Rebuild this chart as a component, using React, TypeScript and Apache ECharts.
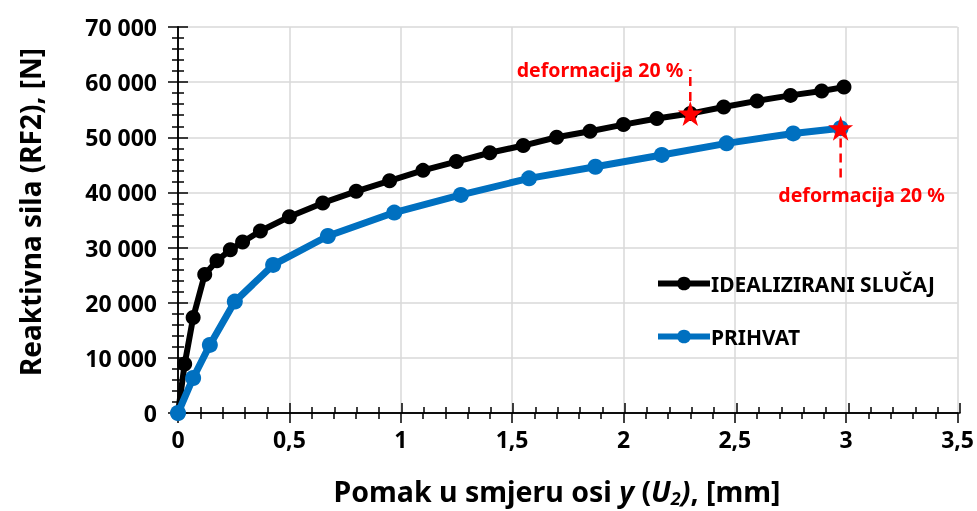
import React, { useEffect, useRef } from "react";
import * as echarts from "echarts";

// ---- data ----
const idealX = [0, 0.03, 0.068, 0.12, 0.175, 0.235, 0.29, 0.37, 0.5, 0.65, 0.8, 0.95, 1.1, 1.25, 1.4, 1.55, 1.7, 1.85, 2.0, 2.15, 2.3, 2.45, 2.6, 2.75, 2.89, 2.99];
const idealY = [0, 8900, 17300, 25100, 27600, 29600, 31000, 33000, 35600, 38100, 40200, 42100, 44000, 45600, 47200, 48500, 50000, 51100, 52300, 53400, 54300, 55500, 56600, 57600, 58400, 59100];

const prihvatX = [0, 0.068, 0.143, 0.255, 0.427, 0.673, 0.971, 1.27, 1.576, 1.874, 2.172, 2.463, 2.762, 2.975];
const prihvatY = [0, 6350, 12350, 20200, 26850, 32100, 36350, 39550, 42550, 44650, 46800, 48900, 50700, 51650];

const starX = [2.3, 2.975];
const starY = [54300, 51650];

// dashed marker lines [x, yFrom, yTo]
const dashUpper = [2.3, 56600, 62300];
const dashLower = [2.975, 49800, 42300];

const seriesNames = ["IDEALIZIRANI SLUČAJ", "PRIHVAT"];
const annotationText = "deformacija 20 %";
const xTitle = "Pomak u smjeru osi ";
const yTitle = "Reaktivna sila (RF2), [N]";

const FONT = "Noto Sans";
const STAR = "path://M50,0 L61.8,35.3 L99,35.3 L68.9,57.1 L80.4,92.5 L50,70.6 L19.6,92.5 L31.1,57.1 L1,35.3 L38.2,35.3 Z";

const pairs = (xs: number[], ys: number[]) => xs.map((x, i) => [x, ys[i]]);
const fmtThousands = (v: number) => (v === 0 ? "0" : String(v).replace(/\B(?=(\d{3})+(?!\d))/g, " "));
const fmtComma = (v: number) => String(v).replace(".", ",");

export default function App() {
  const ref = useRef<HTMLDivElement>(null);
  useEffect(() => {
    if (!ref.current) return;
    const chart = echarts.init(ref.current, null, { renderer: "svg" });
    const gridRect = { left: 178, right: 17, top: 27, bottom: 98 };
    const xBase = { type: "value", min: 0, max: 3.5, interval: 0.5 };
    const yBase = { type: "value", min: 0, max: 70000, interval: 10000 };
    const axisLine = { show: true, onZero: false, lineStyle: { color: "#000", width: 1.5 } };
    const option: any = {
      animation: false,
      textStyle: { fontFamily: FONT },
      grid: [
        { ...gridRect },
        { ...gridRect },
      ],
      xAxis: [
        {
          ...xBase,
          gridIndex: 0,
          position: "bottom",
          axisLine,
          axisTick: { show: true, length: 10, lineStyle: { color: "#000", width: 1.5 } },
          minorTick: { show: true, splitNumber: 5, length: 6, lineStyle: { color: "#000", width: 1.5 } },
          splitLine: { show: true, lineStyle: { color: "#d9d9d9", width: 1.5 } },
          axisLabel: { margin: 14, fontSize: 23, fontWeight: "bold", color: "#000", fontFamily: FONT, formatter: fmtComma },
        },
        {
          ...xBase,
          gridIndex: 1,
          position: "bottom",
          axisLine,
          axisTick: { show: true, inside: true, length: 10, lineStyle: { color: "#000", width: 1.5 } },
          minorTick: { show: true, splitNumber: 5, length: 6, lineStyle: { color: "#000", width: 1.5 } },
          splitLine: { show: false },
          axisLabel: { show: false },
        },
      ],
      yAxis: [
        {
          ...yBase,
          gridIndex: 0,
          position: "left",
          axisLine,
          axisTick: { show: true, length: 10, lineStyle: { color: "#000", width: 1.5 } },
          minorTick: { show: true, splitNumber: 5, length: 6, lineStyle: { color: "#000", width: 1.5 } },
          splitLine: { show: true, lineStyle: { color: "#d9d9d9", width: 1.5 } },
          axisLabel: { margin: 21, fontSize: 23, fontWeight: "bold", color: "#000", fontFamily: FONT, formatter: fmtThousands },
        },
        {
          ...yBase,
          gridIndex: 1,
          position: "left",
          axisLine,
          axisTick: { show: true, inside: true, length: 10, lineStyle: { color: "#000", width: 1.5 } },
          minorTick: { show: true, splitNumber: 5, length: 6, lineStyle: { color: "#000", width: 1.5 } },
          splitLine: { show: false },
          axisLabel: { show: false },
        },
      ],
      legend: {
        data: seriesNames,
        orient: "vertical",
        left: 650,
        top: 268,
        itemWidth: 52,
        itemHeight: 17,
        itemGap: 32,
        lineStyle: { width: 6 },
        textStyle: { fontSize: 21, fontWeight: "bold", color: "#000", fontFamily: FONT, padding: [0, 0, 0, -4] },
      },
      series: [
        {
          name: seriesNames[0],
          type: "line",
          data: pairs(idealX, idealY),
          symbol: "circle",
          symbolSize: 15,
          itemStyle: { color: "#000" },
          lineStyle: { color: "#000", width: 6 },
          z: 3,
        },
        {
          name: seriesNames[1],
          type: "line",
          data: pairs(prihvatX, prihvatY),
          symbol: "circle",
          symbolSize: 16,
          itemStyle: { color: "#0070C0" },
          lineStyle: { color: "#0070C0", width: 7 },
          z: 4,
        },
        {
          name: "dashUpper",
          type: "line",
          data: [[dashUpper[0], dashUpper[1]], [dashUpper[0], dashUpper[2]]],
          symbol: "none",
          lineStyle: { color: "#ff0000", width: 2.5, type: [9, 6] },
          silent: true,
          z: 5,
        },
        {
          name: "dashLower",
          type: "line",
          data: [[dashLower[0], dashLower[1]], [dashLower[0], dashLower[2]]],
          symbol: "none",
          lineStyle: { color: "#ff0000", width: 2.5, type: [9, 6] },
          silent: true,
          z: 5,
        },
        {
          name: "stars",
          type: "scatter",
          data: pairs(starX, starY),
          symbol: STAR,
          symbolSize: 25,
          itemStyle: { color: "#ff0000", opacity: 1 },
          z: 6,
        },
        {
          name: "labels",
          type: "scatter",
          symbolSize: 0,
          silent: true,
          data: [
            { value: [dashUpper[0], dashUpper[2]], label: { show: true, position: "left", distance: 7 } },
            { value: [dashLower[0], dashLower[2]], label: { show: true, position: "bottom", distance: 5, offset: [21, 0] } },
          ],
          label: {
            formatter: annotationText,
            color: "#ff0000",
            fontSize: 19.5,
            fontWeight: "bold",
            fontFamily: FONT,
          },
          itemStyle: { opacity: 1 },
          z: 7,
        },
      ],
      graphic: [
        {
          type: "text",
          x: 30,
          y: 212,
          rotation: Math.PI / 2,
          style: {
            text: yTitle,
            fill: "#000",
            font: `bold 28px "${FONT}"`,
            textAlign: "center",
            textVerticalAlign: "middle",
          },
        },
        {
          type: "text",
          x: 557,
          y: 491,
          style: {
            text: `{a|${xTitle}}{i|y}{a| (}{i|U}{s|2}{i|)}{a|, [mm]}`,
            textAlign: "center",
            textVerticalAlign: "middle",
            rich: {
              a: { fontSize: 28.5, fontWeight: "bold", fontFamily: FONT, fill: "#000", lineHeight: 32 },
              i: { fontSize: 28.5, fontWeight: "bold", fontStyle: "italic", fontFamily: FONT, fill: "#000", lineHeight: 32 },
              s: { fontSize: 18, fontWeight: "bold", fontStyle: "italic", fontFamily: FONT, fill: "#000", lineHeight: 18, verticalAlign: "bottom" },
            },
          },
        },
      ],
    };
    chart.setOption(option);
    return () => chart.dispose();
  }, []);
  return <div ref={ref} style={{ position: "fixed", left: 0, top: 0, width: 977, height: 511 }} />;
}
